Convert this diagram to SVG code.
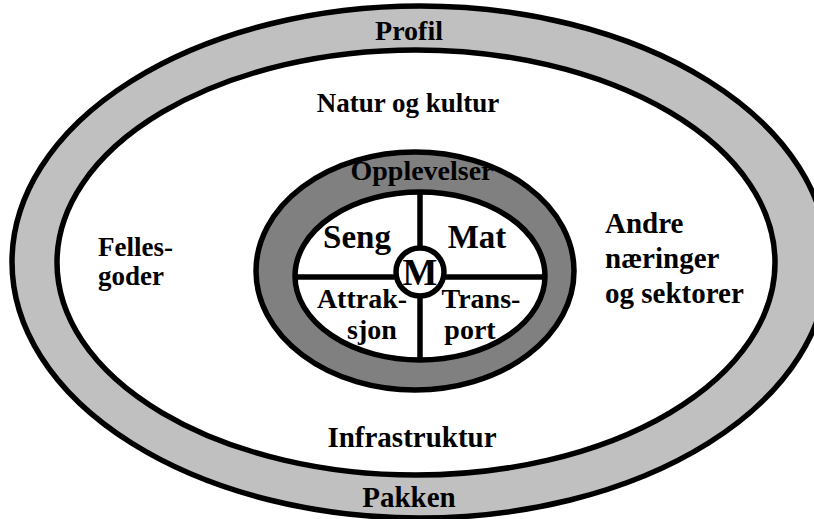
<svg xmlns="http://www.w3.org/2000/svg" width="814" height="519" viewBox="0 0 814 519">
<style>
.ln{stroke:#000;stroke-width:5.5;}
.t{font-family:"Liberation Serif","Times New Roman",serif;font-weight:bold;font-size:27px;fill:#000;}
.c{text-anchor:middle;}
.r{font-size:29px;}
.i{font-size:28px;}
</style>
<rect width="814" height="519" fill="#fff"/>
<g id="profil-pakken">
<ellipse cx="420" cy="262" rx="408" ry="256" fill="#c0c0c0" class="ln"/>
<text class="t c" x="409" y="40" style="font-size:28px">Profil</text>
<text class="t c" x="409" y="507" style="font-size:29px">Pakken</text>
</g>
<g id="omgivelser">
<ellipse cx="416" cy="262.5" rx="359" ry="212.5" fill="#fff" class="ln"/>
<text class="t c" x="408" y="112">Natur og kultur</text>
<text class="t c" x="412" y="447" style="font-size:29px">Infrastruktur</text>
<text class="t" x="98" y="256">Felles-</text>
<text class="t" x="98" y="285">goder</text>
<text class="t r" x="605" y="233">Andre</text>
<text class="t r" x="605" y="268">næringer</text>
<text class="t r" x="605" y="303">og sektorer</text>
</g>
<g id="opplevelser">
<ellipse cx="415" cy="271" rx="159" ry="119" fill="#808080" class="ln"/>
<text class="t c" x="422" y="180" style="font-size:28px">Opplevelser</text>
</g>
<g id="kjerne">
<ellipse cx="420" cy="276" rx="125" ry="84" fill="#fff" class="ln"/>
</g>
<g id="connectors">
<line x1="420" y1="192" x2="420" y2="360" class="ln"/>
<line x1="295" y1="277" x2="545" y2="277" class="ln"/>
</g>
<g id="seng"><text class="t c" x="357" y="248" style="font-size:33px">Seng</text></g>
<g id="mat"><text class="t c" x="477" y="248" style="font-size:33px">Mat</text></g>
<g id="attraksjon">
<text class="t c i" x="362" y="308">Attrak-</text>
<text class="t c i" x="372" y="339">sjon</text>
</g>
<g id="transport">
<text class="t c i" x="481" y="308">Trans-</text>
<text class="t c i" x="470" y="339">port</text>
</g>
<g id="m">
<circle cx="420" cy="272" r="24" fill="#fff" class="ln"/>
<text class="t c" x="420" y="285" style="font-size:37px">M</text>
</g>
</svg>
